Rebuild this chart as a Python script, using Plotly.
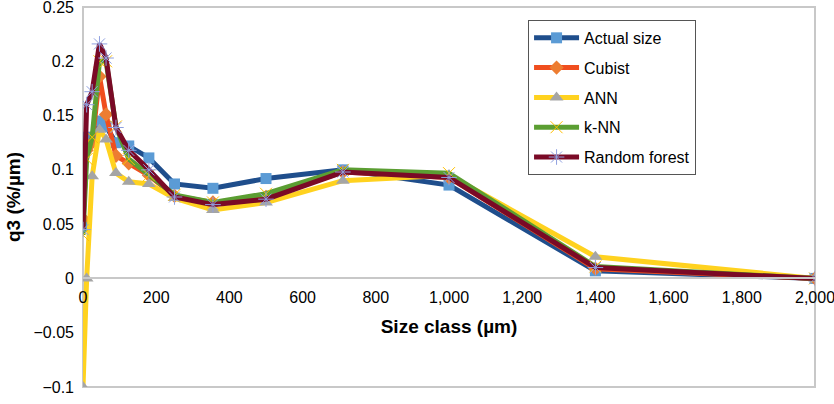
import plotly.graph_objects as go

size_class = [0, 10, 25, 45, 63, 90, 125, 180, 250, 355, 500, 710, 1000, 1400, 2000]
actual = [0.048, 0.130, 0.130, 0.145, 0.140, 0.125, 0.122, 0.111, 0.087, 0.083, 0.092, 0.100, 0.086, 0.007, 0.0]
cubist = [0.055, 0.118, 0.125, 0.186, 0.151, 0.113, 0.106, 0.095, 0.076, 0.070, 0.075, 0.098, 0.093, 0.009, 0.0]
ann = [-0.100, 0.000, 0.094, 0.137, 0.128, 0.097, 0.089, 0.087, 0.074, 0.063, 0.070, 0.090, 0.095, 0.020, 0.0]
knn = [0.040, 0.110, 0.130, 0.200, 0.200, 0.140, 0.110, 0.095, 0.077, 0.070, 0.078, 0.100, 0.097, 0.011, 0.0]
rf = [0.045, 0.160, 0.172, 0.216, 0.203, 0.139, 0.118, 0.100, 0.075, 0.068, 0.073, 0.098, 0.093, 0.010, 0.0]

x_ticks = [0, 200, 400, 600, 800, 1000, 1200, 1400, 1600, 1800, 2000]

series = [
    ("Actual size", actual, "#1F4E8C", dict(symbol="square", size=11, color="#5B9BD5")),
    ("Cubist", cubist, "#F04E1E", dict(symbol="diamond", size=11, color="#ED7D31")),
    ("ANN", ann, "#FFD21F", dict(symbol="triangle-up", size=12, color="#A5A5A5")),
    ("k-NN", knn, "#5B9E32", dict(symbol="x-thin-open", size=12, color="#FFC000", line=dict(width=1, color="#FFC000"))),
    ("Random forest", rf, "#7A0A26", dict(symbol="asterisk-open", size=13, color="#8FA0E0", line=dict(width=1, color="#8FA0E0"))),
]

fig = go.Figure()
for i, (name, vals, lc, mk) in enumerate(series):
    fig.add_trace(go.Scatter(
        x=size_class, y=vals, name=name, mode="lines+markers",
        line=dict(color=lc, width=5), marker=mk, legendgroup=str(i),
    ))

y0_frac = (0 - (-0.1)) / 0.35

fig.update_layout(
    width=834, height=404,
    margin=dict(l=83, r=19, t=7, b=17),
    paper_bgcolor="white", plot_bgcolor="white",
    font=dict(family="Liberation Sans, Arial, sans-serif", size=16, color="#000"),
    showlegend=True,
    legend=dict(
        x=0.608, y=0.966, xanchor="left", yanchor="top",
        bordercolor="#555", borderwidth=1, bgcolor="white",
        font=dict(size=16), tracegroupgap=6, traceorder="grouped",
        itemwidth=45,
    ),
    xaxis=dict(
        range=[0, 2000], tickvals=x_ticks,
        tickformat=",", showgrid=False, zeroline=False,
        anchor="free", position=y0_frac, automargin=False,
        showline=True, linecolor="#C8C8C8", linewidth=2,
        ticks="", ticklabelstandoff=4, ticklabeloverflow="allow",
        title=dict(text="<b>Size class (µm)</b>", font=dict(size=19), standoff=14),
    ),
    yaxis=dict(
        range=[-0.1, 0.25], dtick=0.05, showgrid=False, zeroline=False,
        showline=False, ticks="", ticklabelstandoff=8, ticklabeloverflow="allow",
        automargin=False,
        title=dict(text="<b>q3 (%/µm)</b>", font=dict(size=19), standoff=7),
    ),
    shapes=[dict(type="rect", xref="paper", yref="paper", x0=0, x1=1, y0=0, y1=1,
                 line=dict(color="#C8C8C8", width=2), layer="below")],
)

fig.write_html("out.html")
